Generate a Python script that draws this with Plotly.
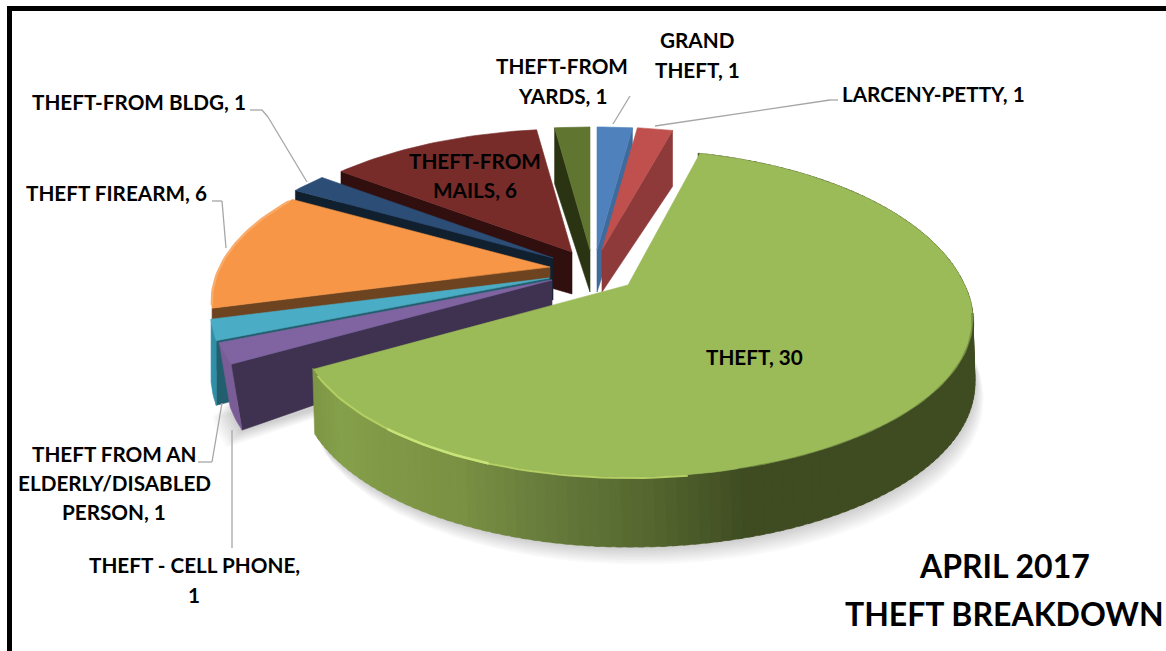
import math
import plotly.graph_objects as go

# ---- data ----
categories = ["GRAND THEFT", "LARCENY-PETTY", "THEFT", "THEFT - CELL PHONE",
              "THEFT FROM AN ELDERLY/DISABLED PERSON", "THEFT FIREARM",
              "THEFT-FROM BLDG", "THEFT-FROM MAILS", "THEFT-FROM YARDS"]
values = [1, 1, 30, 1, 1, 6, 1, 6, 1]
title_lines = ["APRIL 2017", "THEFT BREAKDOWN"]

# ---- style ----
top_colors = ["#4f81bd", "#c0504d", "#9bbb59", "#8064a2", "#4bacc6", "#f79646", "#2c4d75", "#772c2a", "#5f7530"]
arc_colors = ["#3f6a9c", "#8f3a3a", "#7d9645", "#7a5c96", "#2f8fa8", "#f0a060", "#1d3550", "#4a1a18", "#3d4c1e"]
edge_colors = ["#3f6a9c", "#8f3a3a", "#7d9645", "#3f3150", "#215e6e", "#6e4420", "#10202f", "#300f0e", "#2a3312"]
# which side wall shows: 0 = clockwise-start edge, 1 = clockwise-end edge
edge_side = [1, 1, None, 0, 0, 0, 0, 0, 0]
# slice apex on the page once exploded (pixels)
apex = [(597, 250), (602, 250), (628, 285), (552, 280), (549, 278), (550, 267), (553, 258), (572, 252), (590, 250)]
back_stretch = [1, 1, 1.1, 1, 1, 1, 1, 1, 1]
right_stretch = [1, 1, 1.02, 1, 1, 1, 1, 1, 1]
left_stretch = [1, 1, 0.98, 1, 1, 1, 1, 1, 1]
wall_lean = [0, 0, 2, 11, 0, 0, 0, 0, 0]
draw_order = [8, 7, 0, 1, 6, 5, 4, 3, 2]

RX, RY, P = 330, 150, 0.219


def project(i, deg):
    ax, ay = apex[i]
    t = math.radians(deg)
    X, Y = math.sin(t), math.cos(t)
    s = 1 / (1 + P * Y)
    kx = right_stretch[i] if X > 0 else left_stretch[i]
    ky = back_stretch[i] if Y > 0 else 1
    return ax + RX * X * s * kx, ay - RY * Y * s * ky


def depth(deg):
    Y = math.cos(math.radians(deg))
    return 56 + 14 * math.sqrt(-Y) if Y < 0 else 56


def arc(i, a0, a1, drop=False, step=1.5):
    n = max(2, int(abs(a1 - a0) / step) + 1)
    pts = []
    for k in range(n + 1):
        d = a0 + (a1 - a0) * k / n
        x, y = project(i, d)
        if drop:
            x, y = x + wall_lean[i], y + depth(d)
        pts.append((x, y))
    return pts


def mix(c1, c2, f):
    a = [int(c1[i:i + 2], 16) for i in (1, 3, 5)]
    b = [int(c2[i:i + 2], 16) for i in (1, 3, 5)]
    return "rgb(%d,%d,%d)" % tuple(round(a[i] + (b[i] - a[i]) * f) for i in range(3))


fig = go.Figure()


def poly(pts, color, line=None, width=0):
    fig.add_trace(go.Scatter(
        x=[p[0] for p in pts] + [pts[0][0]], y=[p[1] for p in pts] + [pts[0][1]],
        mode="lines", fill="toself", fillcolor=color,
        line=dict(color=line or color, width=width or 0.6),
        hoverinfo="skip", showlegend=False))


def polyline(pts, color, width):
    fig.add_trace(go.Scatter(x=[p[0] for p in pts], y=[p[1] for p in pts], mode="lines",
                             line=dict(color=color, width=width), hoverinfo="skip", showlegend=False))


total = sum(values)
angles = [0]
for v in values:
    angles.append(angles[-1] + 360 * v / total)

# soft shadow below the big slice and the purple slice
for idx, (lo, hi) in ((2, (70, 240)), (3, (240, 250))):
    ax, ay = apex[idx]
    for k in range(8):
        off = 2 + k * 2.2
        pts = [(x + (off * 0.5 if idx == 2 else -off * 0.9), y + off) for x, y in arc(idx, lo, hi, True)]
        pts += [(ax, ay + 60)]
        poly(pts, "rgba(0,0,0,0.022)", "rgba(0,0,0,0)", 0.1)

for i in draw_order:
    ax, ay = apex[i]
    a0, a1 = angles[i], angles[i + 1]
    # side wall
    if edge_side[i] is not None:
        e = a1 if edge_side[i] else a0
        ox, oy = project(i, e)
        dh = depth(e)
        poly([(ax, ay), (ox, oy), (ox + wall_lean[i], oy + dh), (ax, ay + 42)], edge_colors[i])
    # rim wall
    if i == 2:
        stops = [(15, "#3f4c22"), (165, "#3f4c22"), (177, "#54652e"), (190, "#64783a"),
                 (205, "#7a9043"), (230, "#85a04a"), (240, "#7d9645")]
        a = 15.0
        while a < 240:
            b = min(a + 1.5, 240)
            mid = (a + b) / 2
            col = stops[0][1]
            for (d0, c0), (d1, c1) in zip(stops, stops[1:]):
                if d0 <= mid <= d1:
                    col = mix(c0, c1, (mid - d0) / (d1 - d0))
            poly(arc(i, a - 0.4, b + 0.4) + arc(i, b + 0.4, a - 0.4, True), col)
            a = b
    elif a0 > 200 and a1 < 275:
        poly(arc(i, a0, a1) + arc(i, a1, a0, True), arc_colors[i])
    # top face
    poly([(ax, ay)] + arc(i, a0, a1), top_colors[i])
    if i == 2:
        polyline([(x, y + 1) for x, y in arc(i, 172, 238)], "#b4d064", 2)
        polyline([(x, y + 1) for x, y in arc(i, 200, 218)], "#c8e478", 2.5)
        polyline([(x, y + 1) for x, y in arc(i, 100, 165)], "rgba(63,76,34,0.35)", 3)
    if i == 5:
        polyline(arc(i, a0 + 1, a1 - 1), "#f9ab69", 2.5)

# leader lines
leaders = [[(613, 124), (630, 96)],
           [(655, 126), (830, 100), (838, 100)],
           [(307, 182), (268, 117), (262, 110), (250, 110)],
           [(226, 248), (222, 201), (212, 201)],
           [(222, 403), (212, 462), (198, 462)],
           [(232, 430), (232, 548)]]
shapes = []
for seg in leaders:
    for (x0, y0), (x1, y1) in zip(seg, seg[1:]):
        shapes.append(dict(type="line", x0=x0, y0=y0, x1=x1, y1=y1, xref="x", yref="y",
                           line=dict(color="#a6a6a6", width=1.3)))
# frame
shapes.append(dict(type="line", x0=7, y0=8.5, x1=1166, y1=8.5, xref="x", yref="y", line=dict(color="#000", width=5)))
shapes.append(dict(type="line", x0=9.5, y0=6, x1=9.5, y1=651, xref="x", yref="y", line=dict(color="#000", width=5)))


# labels: text lines split from categories and values
def lab(lines, cx, y0, size=20.7, dy=29):
    return [dict(text="<b>%s</b>" % t, x=cx, y=y0 + k * dy, xref="x", yref="y", showarrow=False,
                 xanchor="center", yanchor="middle",
                 font=dict(family="Lato, Carlito, sans-serif", size=size, color="#000"))
            for k, t in enumerate(lines)]


def text_of(i):
    return "%s, %d" % (categories[i], values[i])


annotations = []
annotations += lab(["GRAND", "THEFT, %d" % values[0]], 697, 40, dy=30)
annotations += lab([text_of(1)], 933, 94)
annotations += lab([text_of(2)], 754, 357)
annotations += lab(["THEFT - CELL PHONE,", str(values[3])], 194, 565, dy=30)
annotations += lab(["THEFT FROM AN", "ELDERLY/DISABLED", "PERSON, %d" % values[4]], 114, 454)
annotations += lab([text_of(5)], 116, 193)
annotations += lab([text_of(6)], 139, 102)
annotations += lab(["THEFT-FROM", "MAILS, %d" % values[7]], 475, 161)
annotations += lab(["THEFT-FROM", "YARDS, %d" % values[8]], 562, 66, dy=30)
annotations += lab(title_lines, 1004, 565, size=32, dy=48)

fig.update_layout(
    width=1166, height=651, margin=dict(l=0, r=0, t=0, b=0),
    paper_bgcolor="white", plot_bgcolor="white", showlegend=False,
    xaxis=dict(range=[0, 1166], visible=False, fixedrange=True),
    yaxis=dict(range=[651, 0], visible=False, fixedrange=True),
    shapes=shapes, annotations=annotations)

fig.write_html("out.html", config=dict(displayModeBar=False),
               post_script="document.body.style.margin='0';document.body.style.overflow='hidden';")
